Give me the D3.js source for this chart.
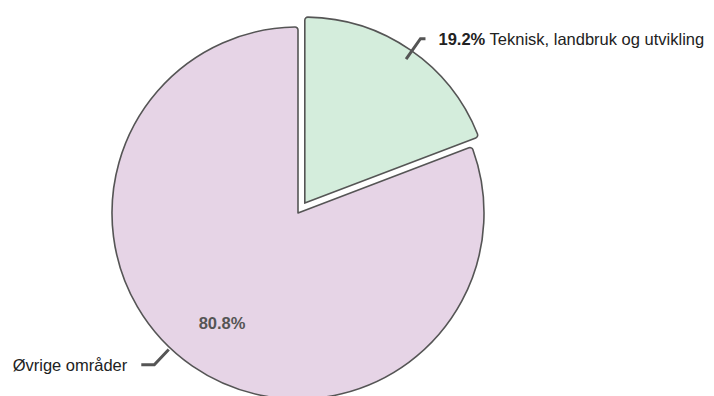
<!DOCTYPE html>
<html>
<head>
<meta charset="utf-8">
<script src="https://cdn.jsdelivr.net/npm/d3@7"></script>
<style>
  body { margin: 0; background: #fff; }
  svg { display: block; }
</style>
</head>
<body>
<div id="chart"></div>
<script>
// data
const labels = ["Teknisk, landbruk og utvikling", "Øvrige områder"];
const values = [19.2, 80.8];
const colors = ["#d4eddc", "#e6d4e6"];

const W = 714, H = 396;
const cx = 298, cy = 213, R = 186;

const svg = d3.select("#chart").append("svg")
  .attr("width", W).attr("height", H);

const g = svg.append("g").attr("transform", "translate(" + cx + "," + cy + ")");

const pie = d3.pie().sort(null).value(d => d.v);
const arcs = pie(values.map((v, i) => ({v: v, label: labels[i], i: i})));

const arc = d3.arc().innerRadius(0).outerRadius(R).cornerRadius(3);

// first slice is pulled out
const explode = i => i == 0 ? 12 : 0;
const mid = d => (d.startAngle + d.endAngle) / 2;

g.selectAll("path.slice")
  .data(arcs)
  .enter().append("path")
    .attr("class", "slice")
    .attr("d", arc)
    .attr("transform", d => {
      const e = explode(d.index), a = mid(d);
      return "translate(" + (Math.sin(a) * e) + "," + (-Math.cos(a) * e) + ")";
    })
    .attr("fill", (d, i) => colors[i])
    .attr("stroke", "#555")
    .attr("stroke-width", 1.6)
    .attr("stroke-linejoin", "round");

// connector + outside labels
const labelShift = [0.01, 0.155]; // nudge of label anchor angle (rad)
const connFrom = [-10, 2], connTo = [15, 23], connHor = [5, 13];
const fontFam = "Liberation Sans, Arial, sans-serif";
arcs.forEach((d, i) => {
  const e = explode(i);
  const a = mid(d) + labelShift[i];
  const ox = Math.sin(mid(d)) * e, oy = -Math.cos(mid(d)) * e;
  const p0 = [ox + Math.sin(a) * (R + connFrom[i]), oy - Math.cos(a) * (R + connFrom[i])];
  const p1 = [ox + Math.sin(a) * (R + connTo[i]), oy - Math.cos(a) * (R + connTo[i])];
  const right = Math.sin(a) > 0;
  const p2 = [p1[0] + (right ? connHor[i] : -connHor[i]), p1[1]];

  g.append("path")
    .attr("d", d3.line()([p0, p1, p2]))
    .attr("fill", "none")
    .attr("stroke", "#555")
    .attr("stroke-width", 3);

  const t = g.append("text")
    .attr("x", p2[0] + (right ? 13 : -14))
    .attr("y", p2[1])
    .attr("dy", "0.35em")
    .attr("text-anchor", right ? "start" : "end")
    .attr("font-family", fontFam)
    .attr("font-size", 16.5)
    .attr("fill", "#222");
  if (i == 0) {
    t.append("tspan").attr("font-weight", "bold").text(d3.format(".1f")(values[i]) + "%");
    t.append("tspan").text(" " + labels[i]);
  } else {
    t.text(labels[i]);
  }
});

// inside percentage for the big slice
const inner = d3.arc().innerRadius(R * 0.72).outerRadius(R * 0.72);
arcs.filter(d => d.index == 1).forEach(d => {
  const c = inner.centroid(d);
  g.append("text")
    .attr("x", c[0]).attr("y", c[1])
    .attr("dy", "0.35em")
    .attr("text-anchor", "middle")
    .attr("font-family", fontFam)
    .attr("font-size", 16.5)
    .attr("font-weight", "bold")
    .attr("fill", "#555")
    .text(d3.format(".1f")(values[1]) + "%");
});
</script>
</body>
</html>
